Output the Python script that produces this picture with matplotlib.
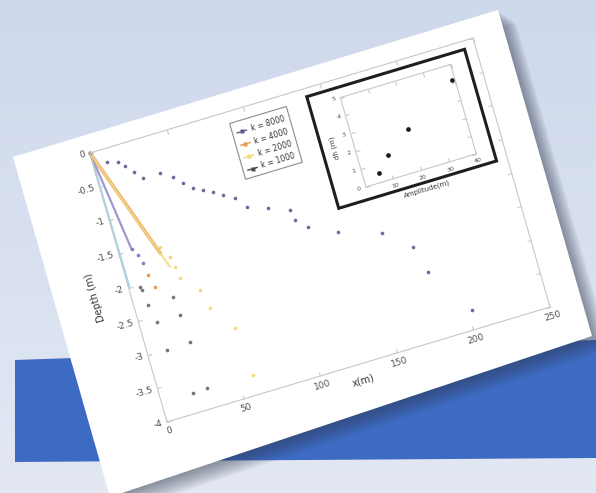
import numpy as np
import matplotlib
matplotlib.use("Agg")
import matplotlib.pyplot as plt
from matplotlib.colors import LinearSegmentedColormap
from matplotlib.patches import Polygon
from matplotlib.transforms import Affine2D
from mpl_toolkits.axisartist import floating_axes
from mpl_toolkits.axisartist.grid_finder import FixedLocator, DictFormatter

W, H = 596, 493

# ---------------- data ----------------
x_ticks = [0, 50, 100, 150, 200, 250]
y_ticks = [0, -0.5, -1, -1.5, -2, -2.5, -3, -3.5, -4]
legend_labels = ["k = 8000", "k = 4000", "k = 2000", "k = 1000"]

# k = 8000 : dots running out to the right
x_navy = [0, 8.7, 15, 19, 23, 27.6, 38.6, 45.8, 50.7, 55.9, 61.6, 67.2, 72.7,
          79.4, 85.1, 97.5, 110.4, 111.7, 118.3, 135.5, 161.8, 178, 182.7, 202.6]
y_navy = [0, -0.19, -0.24, -0.33, -0.44, -0.56, -0.56, -0.67, -0.79, -0.90,
          -0.97, -1.04, -1.12, -1.21, -1.39, -1.49, -1.60, -1.76, -1.91, -2.10,
          -2.30, -2.62, -3.02, -3.72]

# steep fan near the origin (dense points read as lines)
x_cyan = [0, 0.3, 0.6]
y_cyan = [0, -1.0, -2.0]
x_purple = [0, 4, 8.5, 8.7, 11.5, 13.1]
y_purple = [0, -0.7, -1.5, -1.48, -1.60, -1.73]
x_orange = [0, 12, 25, 14.1, 16]
y_orange = [0, -0.8, -1.66, -1.91, -2.10]
x_yellow = [0, 14, 28.5, 26, 30.2, 31.5, 32.6, 42.5, 45.5, 57, 59.8]
y_yellow = [0, -0.95, -1.89, -1.57, -1.75, -1.91, -2.08, -2.33, -2.62, -2.99, -3.71]
x_dark = [7.1, 7.7, 8.7, 11.2, 12.4, 20.6, 25.1, 26.2, 27.6, 29.9]
y_dark = [-2.04, -2.09, -2.32, -2.59, -3.01, -3.71, -2.31, -2.59, -3.00, -3.70]
n_line = {"cyan": 3, "purple": 3, "orange": 3, "yellow": 3}

# inset
inset_x = [5.6, 10.3, 19.8, 38.9]
inset_y = [0.52, 1.32, 2.35, 4.2]
inset_xticks = [10, 20, 30, 40]
inset_yticks = [0, 1, 2, 3, 4, 5]

# ---------------- scene layout (photo pixels, y down) ----------------
fig = plt.figure(figsize=(W / 100, H / 100), dpi=100)
bg = fig.add_axes([0, 0, 1, 1])
wall = LinearSegmentedColormap.from_list("wall", ["#cfd9ec", "#d8e0f0", "#e3e8f3"])
bg.imshow(np.linspace(0, 1, 256).reshape(-1, 1), cmap=wall, aspect="auto",
          extent=[0, W, H, 0])
bg.set_xlim(0, W)
bg.set_ylim(H, 0)
bg.axis("off")

# blue banner
bg.add_patch(Polygon([(15, 360), (596, 340), (596, 458), (15, 462)],
                     closed=True, facecolor="#3d6bc3", edgecolor="none"))

# paper card with a soft shadow
card = np.array([(13, 157), (498, 10), (592, 336), (110, 497)], float)
for k in range(1, 11):
    bg.add_patch(Polygon(card + [1.8 * k, 1.3 * k], closed=True,
                         facecolor="#2e3548", edgecolor="none", alpha=0.06))
bg.add_patch(Polygon(card, closed=True, facecolor="white", edgecolor="none"))


def fig_pixels(p):
    return np.array([p[0], H - p[1]], float)


# plot box corners in the photo
origin = fig_pixels((167, 422))   # (0, -4)
x_end = fig_pixels((550, 307))    # (250, -4)
y_end = fig_pixels((90, 153))     # (0, 0)
ex = (x_end - origin) / 250
ey = (y_end - origin) / 4
off = origin + 4 * ey
tr_main = Affine2D(np.array([[ex[0], ey[0], off[0]],
                             [ex[1], ey[1], off[1]],
                             [0, 0, 1]]))


def floating(tr, extremes, xt, yt):
    fmt1 = DictFormatter({v: f"{v:g}" for v in xt})
    fmt2 = DictFormatter({v: f"{v:g}" for v in yt})
    gh = floating_axes.GridHelperCurveLinear(
        tr, extremes=extremes,
        grid_locator1=FixedLocator(xt), grid_locator2=FixedLocator(yt),
        tick_formatter1=fmt1, tick_formatter2=fmt2)
    x0, x1, y0, y1 = extremes
    pts = tr.transform([(x0, y0), (x1, y0), (x1, y1), (x0, y1)])
    lo, hi = pts.min(0), pts.max(0)
    c, half = (lo + hi) / 2, (hi - lo) / 2 * 1.02
    rect = [(c[0] - half[0]) / W, (c[1] - half[1]) / H,
            2 * half[0] / W, 2 * half[1] / H]
    ax = fig.add_axes(rect, axes_class=floating_axes.FloatingAxes, grid_helper=gh)
    ax.set_aspect("auto")
    return ax


def style_frame(ax, size, frame_color):
    for side in ("left", "right", "top", "bottom"):
        a = ax.axis[side]
        a.line.set_color(frame_color)
        a.line.set_linewidth(0.8)
        a.major_ticks.set_color(frame_color)
        a.major_ticks.set_ticksize(3)
        a.major_ticklabels.set_fontsize(size)
        a.major_ticklabels.set_color("#505050")
        a.label.set_fontsize(size + 0.5)
        a.label.set_color("#383838")
    ax.axis["top"].toggle(ticklabels=False, label=False)
    ax.axis["right"].toggle(ticklabels=False, label=False)


ax = floating(tr_main, (0, 250, -4, 0), x_ticks, y_ticks)
style_frame(ax, 6.5, "#c8c8c8")
ax.axis["bottom"].label.set_text("x(m)")
ax.axis["bottom"].label.set_pad(0)
ax.axis["left"].label.set_text("Depth (m)")
aux = ax.get_aux_axes(tr_main)

series = [
    ("cyan", x_cyan, y_cyan, "#86d3e8"),
    ("purple", x_purple, y_purple, "#8a7dc4"),
    ("orange", x_orange, y_orange, "#ea9a52"),
    ("yellow", x_yellow, y_yellow, "#f2d97c"),
]
for name, xs, ys, col in series:
    n = n_line[name]
    aux.plot(xs[:n], ys[:n], "-", color=col, lw=2.6 if name == "orange" else 1.6,
             alpha=0.8, solid_capstyle="round")
    aux.plot(xs[n:], ys[n:], "o", color=col, ms=2.6, mec="none")
aux.plot(x_navy, y_navy, "o", color="#585d8e", ms=2.6, mec="none", alpha=0.9)
aux.plot(x_dark, y_dark, "o", color="#666666", ms=2.6, mec="none", alpha=0.9)

# legend drawn on the tilted card
leg_x0, leg_x1, leg_y0, leg_y1 = 89, 126, -1.0, -0.17
aux.add_patch(Polygon([(leg_x0, leg_y0), (leg_x1, leg_y0), (leg_x1, leg_y1),
                       (leg_x0, leg_y1)], closed=True, facecolor="white",
                      edgecolor="#8c8c8c", lw=0.8, transform=aux.transData))
leg_colors = ["#585d8e", "#ea9a52", "#f2d97c", "#4a4a4a"]
for i, (lab, col) in enumerate(zip(legend_labels, leg_colors)):
    ry = leg_y1 - 0.16 - i * 0.185
    aux.plot([leg_x0 + 3, leg_x0 + 9], [ry, ry], "-", color=col, lw=1)
    aux.plot([leg_x0 + 6], [ry], "s", color=col, ms=2.6, mec="none")
    aux.text(leg_x0 + 12, ry, lab, fontsize=5.5, color="#333333", va="center",
             ha="left", transform_rotates_text=True, rotation_mode="anchor")

# black frame around the inset
box_x0, box_x1, box_y0, box_y1 = 140, 243, -1.78, -0.12
aux.add_patch(Polygon([(box_x0, box_y0), (box_x1, box_y0), (box_x1, box_y1),
                       (box_x0, box_y1)], closed=True, facecolor="white",
                      edgecolor="#1e1e1e", lw=2.2, transform=aux.transData))

# inset axes, placed in main-axes data units
in_x0, in_x1, in_y0, in_y1 = 160, 232, -1.6, -0.27
tr_inset = Affine2D().scale((in_x1 - in_x0) / 40, (in_y1 - in_y0) / 5) \
    .translate(in_x0, in_y0) + tr_main
axi = floating(tr_inset, (0, 40, 0, 5), inset_xticks, inset_yticks)
style_frame(axi, 4.5, "#c8c8c8")
axi.axis["bottom"].label.set_text("Amplitude(m)")
axi.axis["left"].label.set_text("dh (m)")
auxi = axi.get_aux_axes(tr_inset)
auxi.plot(inset_x, inset_y, "o", color="#1a1a1a", ms=3.4, mec="none")

fig.savefig("out.png", dpi=100)
